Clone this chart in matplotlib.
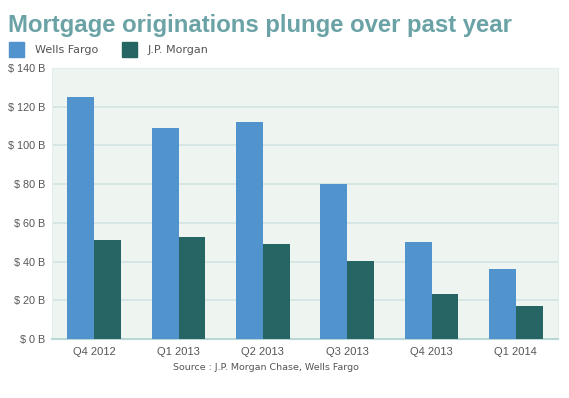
import matplotlib.pyplot as plt
import numpy as np

quarters = ["Q4 2012", "Q1 2013", "Q2 2013", "Q3 2013", "Q4 2013", "Q1 2014"]
wells_fargo = [125, 109, 112, 80, 50, 36]
jp_morgan = [51, 52.5, 49, 40.5, 23, 17]
y_ticks = [0, 20, 40, 60, 80, 100, 120, 140]
y_labels = ["$ %d B" % v for v in y_ticks]

wf_color = "#5093cd"
jpm_color = "#256563"
grid_color = "#d0e4e2"
text_color = "#555555"

fig = plt.figure(figsize=(5.69, 3.98), dpi=100)
ax = fig.add_axes([52 / 569, 1 - 339 / 398, 506 / 569, 271 / 398])
ax.set_facecolor("#eef5f1")

x = np.arange(len(quarters))
w = 0.32
ax.bar(x - w / 2, wells_fargo, w, color=wf_color, zorder=3)
ax.bar(x + w / 2, jp_morgan, w, color=jpm_color, zorder=3)

ax.set_xlim(-0.5, len(quarters) - 0.5)
ax.set_ylim(0, 140)
ax.set_yticks(y_ticks)
ax.set_yticklabels(y_labels, fontsize=7.8, color=text_color, family="Liberation Sans")
ax.set_xticks(x)
ax.set_xticklabels(quarters, fontsize=8, color=text_color, family="Liberation Sans")
ax.tick_params(length=0, pad=6)
ax.tick_params(axis="y", pad=5)
ax.grid(axis="y", color=grid_color, lw=1.2, zorder=1)
for side in ["top", "left", "right"]:
    ax.spines[side].set_color("#e2eeec")
    ax.spines[side].set_linewidth(0.8)
ax.spines["bottom"].set_color("#b9d7d6")
ax.spines["bottom"].set_linewidth(1.5)

# title and legend
fig.text(8 / 569, 1 - 32 / 398, "Mortgage originations plunge over past year", fontsize=17.2,
         fontweight="bold", color="#6aa2a5", family="Liberation Sans")
for px, label, c in [(9, "Wells Fargo", wf_color), (122, "J.P. Morgan", jpm_color)]:
    fig.patches.append(plt.Rectangle((px / 569, 1 - 57 / 398), 15 / 569, 15 / 398,
                                     transform=fig.transFigure, color=c, figure=fig))
    fig.text((px + 26) / 569, 1 - 50 / 398, label, fontsize=8, color=text_color,
             family="DejaVu Sans", va="center")

fig.text(266 / 569, 1 - 368 / 398, "Source : J.P. Morgan Chase, Wells Fargo", fontsize=6.8,
         color=text_color, family="DejaVu Sans", ha="center", va="center")

plt.savefig("out.png", dpi=100, facecolor="white")
